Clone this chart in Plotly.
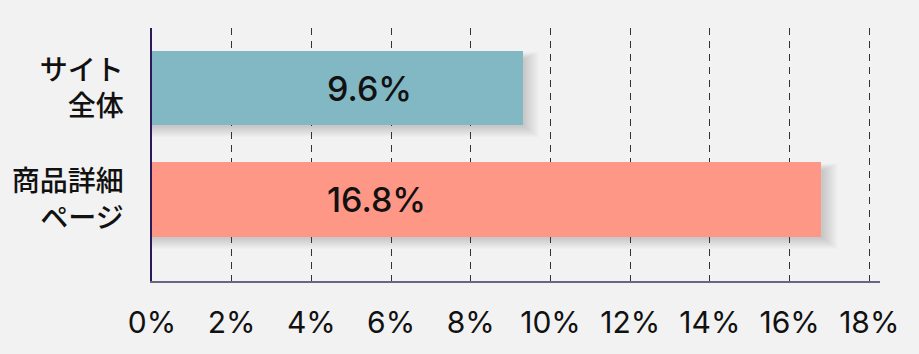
import plotly.graph_objects as go

# ---- data ----
categories = ["サイト<br>全体", "商品詳細<br>ページ"]
bar_values = [9.3, 16.8]          # bar lengths as drawn (percent)
bar_labels = ["9.6%", "16.8%"]    # labels printed on the bars
bar_colors = ["#82b7c4", "#ff9787"]
x_tick_vals = [0, 2, 4, 6, 8, 10, 12, 14, 16, 18]
x_tick_text = ["0%", "2%", "4%", "6%", "8%", "10%", "12%", "14%", "16%", "18%"]

# ---- style ----
BG = "#f2f2f2"
W, H = 919, 354
ML, MR, MT, MB = 152, 39, 28, 73
X_MAX = 18.27
Y_RANGE = [1.729, -0.538]
BAR_W = 0.666
LABEL_X = 4.35

ypos = list(range(len(categories)))

fig = go.Figure()

# soft drop shadows (computed from data)
px_x = X_MAX / (W - ML - MR)
px_y = abs(Y_RANGE[0] - Y_RANGE[1]) / (H - MT - MB)
shapes = []
for yi, v in zip(ypos, bar_values):
    for k in range(1, 15):
        shapes.append(dict(
            type="rect", layer="below", line=dict(width=0),
            fillcolor="rgba(0,0,0,0.013)",
            x0=0, x1=v + (1 + k * 1.1) * px_x,
            y0=yi - BAR_W / 2 + (8 - k * 0.5) * px_y,
            y1=yi + BAR_W / 2 + (1 + k * 0.8) * px_y,
        ))

fig.add_trace(go.Bar(
    x=bar_values, y=ypos, orientation="h", width=BAR_W,
    marker=dict(color=bar_colors, line=dict(width=0)),
    hoverinfo="skip",
))

annotations = []
for yi, lab in zip(ypos, bar_labels):
    annotations.append(dict(
        x=LABEL_X, y=yi, xref="x", yref="y", text=lab, showarrow=False,
        xanchor="left", yanchor="middle",
        font=dict(family="Inter", size=34, color="#111111", weight=500),
    ))

fig.update_layout(
    width=W, height=H,
    margin=dict(l=ML, r=MR, t=MT, b=MB, pad=0, autoexpand=False),
    paper_bgcolor=BG, plot_bgcolor=BG,
    showlegend=False, bargap=0,
    shapes=shapes, annotations=annotations,
    xaxis=dict(
        range=[0, X_MAX], tickvals=x_tick_vals, ticktext=x_tick_text,
        showgrid=True, gridcolor="#333333", gridwidth=1, griddash="7px,6px",
        zeroline=False, showline=True, linecolor="#6b6585", linewidth=1.5,
        ticks="", ticklabelstandoff=14, automargin=False,
        tickfont=dict(family="Inter", size=30, color="#111111"),
        fixedrange=True,
    ),
    yaxis=dict(
        range=Y_RANGE, tickvals=ypos, ticktext=categories,
        showgrid=False, zeroline=False, showline=True,
        linecolor="#2a1a5a", linewidth=1.5, ticks="",
        ticklabelstandoff=21, automargin=False,
        tickfont=dict(family="Noto Sans CJK JP", size=28, color="#111111",
                      weight=500),
        fixedrange=True,
    ),
)

fig.write_html("out.html")
